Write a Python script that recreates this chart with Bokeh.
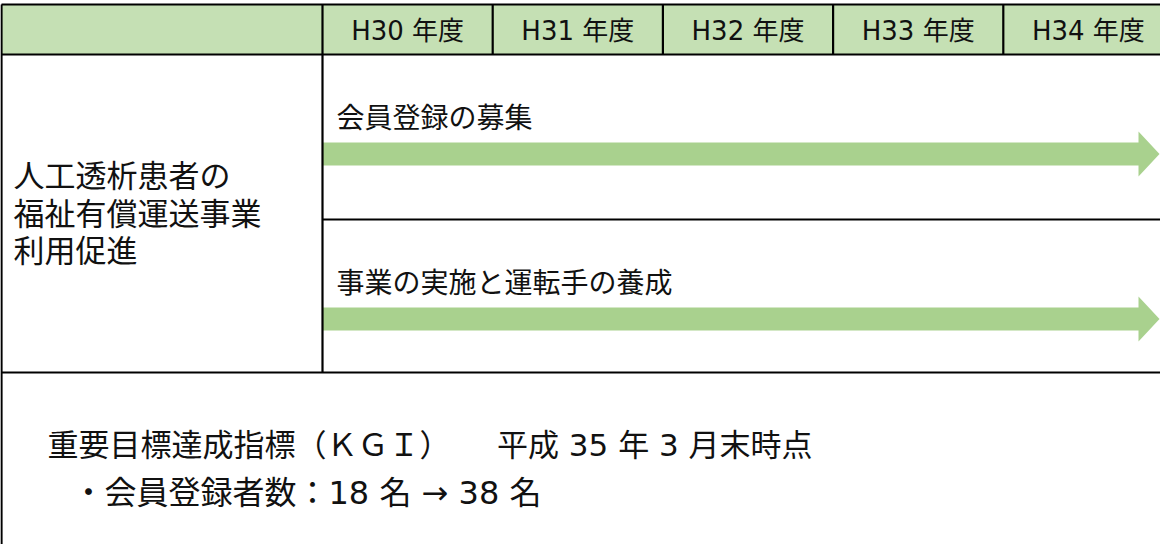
from bokeh.plotting import figure
from bokeh.models import Range1d
from bokeh.core.properties import value
from bokeh.embed import file_html
from bokeh.resources import INLINE

# ---- content -------------------------------------------------------------
years = ["H30 年度", "H31 年度", "H32 年度", "H33 年度", "H34 年度"]
theme_lines = ["人工透析患者の", "福祉有償運送事業", "利用促進"]
tasks = ["会員登録の募集", "事業の実施と運転手の養成"]
task_start = [0, 0]          # first fiscal-year column of each task
task_end = [5, 5]            # arrow runs through the last column
kgi_title = "重要目標達成指標（ＫＧＩ）　　平成 35 年 3 月末時点"
kgi_items = ["・会員登録者数：18 名 → 38 名"]

# ---- layout (page pixel coordinates) -------------------------------------
W, H = 1160, 544
FONT = value("DejaVu Sans, Noto Sans CJK JP")
CJK = value("Noto Sans CJK JP")
X0, XR = 9, 1200
COL0, COLW = 330, 170.2
Y_TOP, Y_HDR, Y_BOT, Y_END = 12, 62, 380, 620
row_edges = [Y_HDR, 227, Y_BOT]
HEADER_FILL = "#c5e0b4"
ARROW_FILL = "#a9d18e"
TXT = "#111111"

cols = [COL0 + i * COLW for i in range(len(years) + 1)]

p = figure(width=W, height=H, output_backend="svg", toolbar_location=None,
           x_range=Range1d(8, 8 + W), y_range=Range1d(8 + H, 8),
           min_border=0, outline_line_color=None, background_fill_color="white")
p.axis.visible = False
p.grid.visible = False

# header band
p.quad(left=[X0], right=[XR], top=[Y_TOP], bottom=[Y_HDR],
       fill_color=HEADER_FILL, line_color=None)

# arrows
bar_half, head_half, head_len, tip = 11.5, 22.5, 21, 1167
bl, br, bt, bb, hx, hy, tx, ty = [], [], [], [], [], [], [], []
for i, t in enumerate(tasks):
    top = row_edges[i]
    yc = top + 99.5
    x_start = cols[task_start[i]]
    x_tip = tip if task_end[i] >= len(years) else cols[task_end[i]]
    base = x_tip - head_len
    bl.append(x_start); br.append(base + 1)
    bt.append(yc - bar_half); bb.append(yc + bar_half)
    hx.append([base, x_tip, base]); hy.append([yc - head_half, yc, yc + head_half])
    tx.append(x_start + 14); ty.append(top + 61)
p.quad(left=bl, right=br, top=bt, bottom=bb, fill_color=ARROW_FILL, line_color=None)
p.patches(hx, hy, fill_color=ARROW_FILL, line_color=None)
p.text(x=tx, y=ty, text=tasks, text_font=CJK, text_font_size="28px",
       text_baseline="middle", text_align="left", text_color=TXT)

# grid lines
sx0, sy0, sx1, sy1 = [], [], [], []
def seg(a, b, c, d):
    sx0.append(a); sy0.append(b); sx1.append(c); sy1.append(d)
seg(X0, Y_TOP, XR, Y_TOP)
seg(X0, Y_HDR, XR, Y_HDR)
seg(X0, Y_BOT, XR, Y_BOT)
seg(X0, Y_TOP, X0, Y_END)
seg(COL0, Y_TOP, COL0, Y_BOT)
for c in cols[1:-1]:
    seg(c, Y_TOP, c, Y_HDR)
for r in row_edges[1:-1]:
    seg(COL0, r, XR, r)
p.segment(x0=sx0, y0=sy0, x1=sx1, y1=sy1, line_color="black", line_width=2.2)

# header texts
p.text(x=[(cols[i] + cols[i + 1]) / 2 for i in range(len(years))],
       y=[(Y_TOP + Y_HDR) / 2 + 1] * len(years), text=years,
       text_font=FONT, text_font_size="26px", text_align="center",
       text_baseline="middle", text_color=TXT)

# theme (left column)
p.text(x=[21] * len(theme_lines), y=[181 + 37.5 * i for i in range(len(theme_lines))],
       text=theme_lines, text_font=CJK, text_font_size="31px",
       text_align="left", text_baseline="middle", text_color=TXT)

# KGI block
p.text(x=[55], y=[452], text=[kgi_title], text_font=FONT, text_font_size="31px",
       text_align="left", text_baseline="middle", text_color=TXT)
p.text(x=[80] * len(kgi_items), y=[500 + 45 * i for i in range(len(kgi_items))],
       text=kgi_items, text_font=FONT, text_font_size="32px",
       text_align="left", text_baseline="middle", text_color=TXT)

open("out.html", "w").write(file_html(p, INLINE))
